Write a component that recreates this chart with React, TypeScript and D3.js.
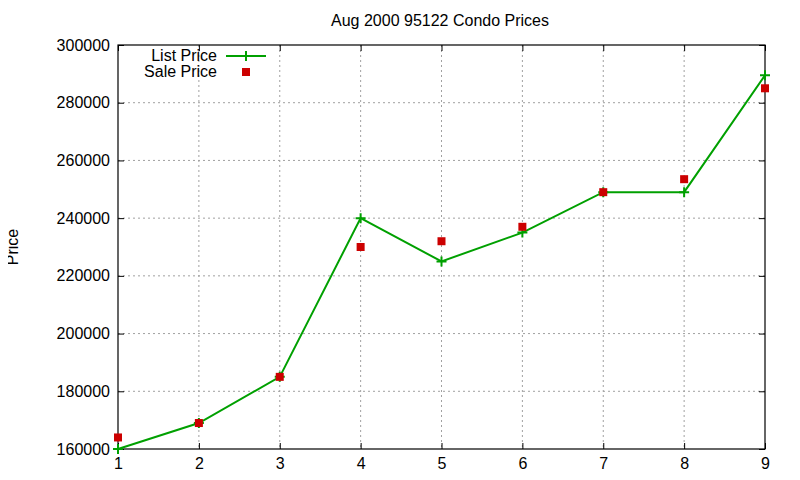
import * as d3 from "d3";
import { useEffect, useRef } from "react";

// data
const days = [1, 2, 3, 4, 5, 6, 7, 8, 9];
const listPrice = [160000, 169000, 185000, 240000, 225000, 235000, 249000, 249000, 289500];
const salePrice = [164000, 169000, 185000, 230000, 232000, 237000, 249000, 253500, 285000];
const yTicks = [160000, 180000, 200000, 220000, 240000, 260000, 280000, 300000];

const W = 800;
const H = 480;
const margin = { top: 45, right: 35, bottom: 31, left: 118 };

const App = () => {
  const chartRef = useRef<SVGSVGElement>(null);

  useEffect(() => {
    const svg = d3.select(chartRef.current);
    svg.selectAll("*").remove();

    const bw = W - margin.left - margin.right;
    const bh = H - margin.top - margin.bottom;

    const x = d3.scaleLinear().domain([1, 9]).range([0, bw]);
    const y = d3.scaleLinear().domain([160000, 300000]).range([bh, 0]);

    const font = "'Liberation Sans', Arial, sans-serif";
    const fs = 16;

    svg.append("rect").attr("width", W).attr("height", H).attr("fill", "white");

    const g = svg.append("g").attr("transform", `translate(${margin.left},${margin.top})`);

    // сетка
    g.selectAll(".gx")
      .data(days.slice(1, -1))
      .enter()
      .append("line")
      .attr("x1", d => x(d)).attr("x2", d => x(d))
      .attr("y1", 0).attr("y2", bh)
      .attr("stroke", "#a0a0a0")
      .attr("stroke-dasharray", "2,3");
    g.selectAll(".gy")
      .data(yTicks.slice(1, -1))
      .enter()
      .append("line")
      .attr("y1", d => y(d)).attr("y2", d => y(d))
      .attr("x1", 0).attr("x2", bw)
      .attr("stroke", "#a0a0a0")
      .attr("stroke-dasharray", "2,3");

    // оси
    const xAxis = d3.axisBottom(x).tickValues(days).tickFormat(d3.format("d")).tickSizeInner(-6).tickSizeOuter(0).tickPadding(9);
    const xTop = d3.axisTop(x).tickValues(days).tickFormat(() => "").tickSizeInner(-6).tickSizeOuter(0);
    const yAxis = d3.axisLeft(y).tickValues(yTicks).tickFormat(d3.format("d")).tickSizeInner(-6).tickSizeOuter(0).tickPadding(8);
    const yRight = d3.axisRight(y).tickValues(yTicks).tickFormat(() => "").tickSizeInner(-6).tickSizeOuter(0);

    [
      g.append("g").attr("transform", `translate(0,${bh})`).call(xAxis),
      g.append("g").call(xTop),
      g.append("g").call(yAxis),
      g.append("g").attr("transform", `translate(${bw},0)`).call(yRight),
    ].forEach(a => {
      a.selectAll("text").attr("font-family", font).attr("font-size", fs).attr("fill", "#000");
      a.selectAll("line").attr("stroke", "#000");
      a.select(".domain").remove();
    });

    g.append("rect")
      .attr("width", bw).attr("height", bh)
      .attr("fill", "none").attr("stroke", "#000").attr("stroke-width", 1.2);

    const green = "#00a000";
    const red = "#cc0000";

    const line = d3.line<number>()
      .x((_, i) => x(days[i]))
      .y(d => y(d));

    g.append("path")
      .datum(listPrice)
      .attr("d", line)
      .attr("fill", "none")
      .attr("stroke", green)
      .attr("stroke-width", 2);

    const cross = (sel: any, cx: number, cy: number) => {
      sel.append("path")
        .attr("d", `M${cx - 5},${cy}H${cx + 5}M${cx},${cy - 5}V${cy + 5}`)
        .attr("stroke", green)
        .attr("stroke-width", 2);
    };
    listPrice.forEach((v, i) => cross(g, x(days[i]), y(v)));

    g.selectAll(".sale")
      .data(salePrice)
      .enter()
      .append("rect")
      .attr("x", (_, i) => x(days[i]) - 4)
      .attr("y", d => y(d) - 4)
      .attr("width", 8).attr("height", 8)
      .attr("fill", red);

    // легенда
    svg.append("text").attr("x", 217).attr("y", 61).attr("text-anchor", "end")
      .attr("font-family", font).attr("font-size", fs).text("List Price");
    svg.append("line").attr("x1", 226).attr("x2", 266).attr("y1", 56).attr("y2", 56)
      .attr("stroke", green).attr("stroke-width", 2);
    cross(svg, 246, 56);
    svg.append("text").attr("x", 217).attr("y", 77).attr("text-anchor", "end")
      .attr("font-family", font).attr("font-size", fs).text("Sale Price");
    svg.append("rect").attr("x", 242).attr("y", 68).attr("width", 8).attr("height", 8).attr("fill", red);

    svg.append("text").attr("x", 440).attr("y", 26).attr("text-anchor", "middle")
      .attr("font-family", font).attr("font-size", fs).text("Aug 2000 95122 Condo Prices");

    svg.append("text")
      .attr("transform", `translate(18,${margin.top + bh / 2}) rotate(-90)`)
      .attr("text-anchor", "middle")
      .attr("font-family", font).attr("font-size", fs).text("Price");
  }, []);

  return (
    <svg ref={chartRef} width={W} height={H} style={{ display: "block", margin: -8 }}></svg>
  );
};

export default App;
